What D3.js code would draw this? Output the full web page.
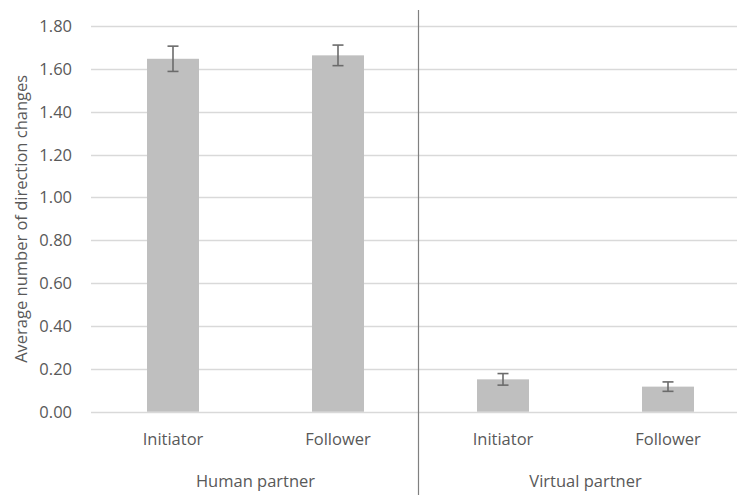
<!DOCTYPE html>
<html>
<head>
<meta charset="utf-8">
<script src="https://cdn.jsdelivr.net/npm/d3@7"></script>
<style>
  html, body { margin: 0; padding: 0; background: #fff; }
  svg { display: block; font-family: "Open Sans", sans-serif; }
</style>
</head>
<body>
<svg id="chart" width="737" height="495"></svg>
<script>
// Average number of direction changes per role and partner type
const groups = ["Human partner", "Virtual partner"];
const roles = ["Initiator", "Follower"];
const means = [1.647, 1.663, 0.151, 0.117];
const errors = [0.059, 0.048, 0.027, 0.022];
const yTicks = [0, 0.2, 0.4, 0.6, 0.8, 1.0, 1.2, 1.4, 1.6, 1.8];

const rows = [];
groups.forEach((g, gi) => roles.forEach((r, ri) => {
  const i = gi * roles.length + ri;
  rows.push({ key: g + "|" + r, group: g, role: r, mean: means[i], err: errors[i] });
}));

const svg = d3.select("#chart");
const W = 737, H = 495;
const textColor = "#595959";
const fontSize = 16.5;

const x = d3.scaleBand()
  .domain(rows.map(d => d.key))
  .range([90.5, 750.5])
  .paddingInner(0.685)
  .paddingOuter(0.3425);

const y = d3.scaleLinear().domain([0, 1.8]).range([411.7, 26]);

// Horizontal gridlines
svg.append("g")
  .selectAll("line")
  .data(yTicks)
  .join("line")
  .attr("x1", 91).attr("x2", W)
  .attr("y1", d => Math.round(y(d)) + 0.5)
  .attr("y2", d => Math.round(y(d)) + 0.5)
  .attr("stroke", "#d9d9d9")
  .attr("stroke-width", 1.3);

// Y tick labels
svg.append("g")
  .selectAll("text")
  .data(yTicks)
  .join("text")
  .attr("x", 72)
  .attr("y", d => y(d))
  .attr("dy", "0.36em")
  .attr("text-anchor", "end")
  .attr("fill", textColor)
  .attr("font-size", fontSize)
  .text(d => d3.format(".2f")(d));

// Bars
svg.append("g")
  .selectAll("rect")
  .data(rows)
  .join("rect")
  .attr("x", d => x(d.key))
  .attr("width", x.bandwidth())
  .attr("y", d => y(d.mean))
  .attr("height", d => y(0) - y(d.mean))
  .attr("fill", "#bfbfbf");

// Error bars
const eb = svg.append("g")
  .attr("stroke", "#6b6b6b")
  .attr("stroke-width", 1.6)
  .selectAll("g")
  .data(rows)
  .join("g")
  .attr("transform", d => `translate(${x(d.key) + x.bandwidth() / 2},0)`);
eb.append("line")
  .attr("y1", d => y(d.mean + d.err)).attr("y2", d => y(d.mean - d.err));
eb.append("line")
  .attr("x1", -5.5).attr("x2", 5.5)
  .attr("y1", d => y(d.mean + d.err)).attr("y2", d => y(d.mean + d.err));
eb.append("line")
  .attr("x1", -5.5).attr("x2", 5.5)
  .attr("y1", d => y(d.mean - d.err)).attr("y2", d => y(d.mean - d.err));

// Role labels
svg.append("g")
  .selectAll("text")
  .data(rows)
  .join("text")
  .attr("x", d => x(d.key) + x.bandwidth() / 2)
  .attr("y", 445)
  .attr("text-anchor", "middle")
  .attr("fill", textColor)
  .attr("font-size", fontSize)
  .text(d => d.role);

// Group labels
svg.append("g")
  .selectAll("text")
  .data(groups)
  .join("text")
  .attr("x", g => {
    const ks = rows.filter(d => d.group === g).map(d => x(d.key) + x.bandwidth() / 2);
    return d3.mean(ks);
  })
  .attr("y", 486.5)
  .attr("text-anchor", "middle")
  .attr("fill", textColor)
  .attr("font-size", fontSize)
  .text(g => g);

// Separator between partner groups
const sepX = Math.round((x(rows[1].key) + x.bandwidth() + x(rows[2].key)) / 2) - 2.5;
svg.append("line")
  .attr("x1", sepX).attr("x2", sepX)
  .attr("y1", 10).attr("y2", H)
  .attr("stroke", "#808080")
  .attr("stroke-width", 1.2);

// Y axis title
svg.append("text")
  .attr("transform", `translate(27,${(y(0) + y(1.8)) / 2}) rotate(-90)`)
  .attr("text-anchor", "middle")
  .attr("fill", textColor)
  .attr("font-size", fontSize)
  .text("Average number of direction changes");
</script>
</body>
</html>
